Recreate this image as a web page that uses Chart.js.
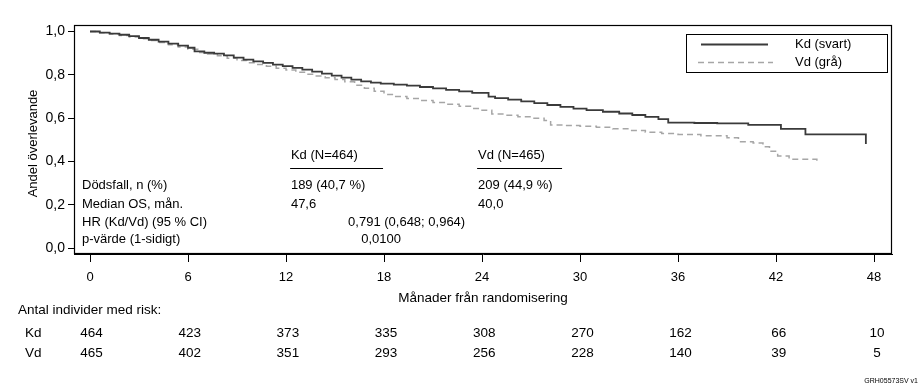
<!DOCTYPE html>
<html>
<head>
<meta charset="utf-8">
<script src="https://cdn.jsdelivr.net/npm/chart.js@4.4.1/dist/chart.umd.min.js"></script>
<style>
html,body{margin:0;padding:0;background:#fff;}
canvas{display:block;}
</style>
</head>
<body>
<canvas id="c" width="922" height="391"></canvas>
<script>
// ---- data ----
const kdTime = [0,0.6,1.2,1.8,2.4,3.0,3.6,4.2,4.8,5.4,6.0,6.4,7.0,7.6,8.2,8.8,9.4,10.0,10.6,11.2,11.8,12.4,13.0,13.6,14.2,14.8,15.4,16.0,16.6,17.2,17.8,18.6,19.4,20.2,21.0,21.8,22.6,23.4,24.4,24.8,25.6,26.4,27.2,28.0,28.8,29.6,30.4,31.4,32.4,33.2,34.0,34.8,35.4,37.0,38.4,40.3,42.3,43.8,47.5];
const kdSurv = [1.000,0.995,0.990,0.985,0.979,0.970,0.962,0.953,0.944,0.935,0.925,0.908,0.902,0.898,0.890,0.880,0.870,0.862,0.855,0.847,0.840,0.832,0.824,0.815,0.806,0.797,0.787,0.778,0.770,0.764,0.760,0.755,0.750,0.744,0.738,0.731,0.724,0.717,0.700,0.693,0.686,0.678,0.670,0.661,0.652,0.644,0.637,0.630,0.622,0.615,0.606,0.596,0.580,0.578,0.576,0.569,0.551,0.526,0.481];
const vdTime = [0,0.6,1.2,1.8,2.4,3.0,3.6,4.2,4.8,5.4,6.0,6.6,7.2,7.8,8.4,9.0,9.6,10.2,10.8,11.4,12.0,12.6,13.2,13.8,14.4,15.0,15.6,16.2,16.8,17.4,18.0,18.6,19.4,20.2,21.0,21.8,22.6,23.4,24.0,24.6,25.4,26.2,27.0,27.8,28.2,29.0,30.0,31.0,32.0,33.0,34.0,35.0,36.0,37.4,39.0,39.7,40.6,41.2,41.6,42.1,42.8,44.5];
const vdSurv = [1.000,0.994,0.988,0.982,0.975,0.967,0.958,0.949,0.939,0.929,0.918,0.903,0.896,0.888,0.877,0.866,0.856,0.848,0.840,0.831,0.822,0.812,0.803,0.795,0.787,0.779,0.768,0.752,0.738,0.724,0.710,0.700,0.691,0.682,0.673,0.664,0.655,0.645,0.637,0.620,0.614,0.607,0.600,0.590,0.569,0.566,0.563,0.559,0.551,0.543,0.536,0.530,0.525,0.519,0.510,0.492,0.486,0.468,0.448,0.426,0.411,0.393];

const seriesNames = ['Kd (svart)','Vd (grå)'];
const xTicks = [0,6,12,18,24,30,36,42,48];
const yTicks = [0,0.2,0.4,0.6,0.8,1.0];
const yTickLabels = ['0,0','0,2','0,4','0,6','0,8','1,0'];
const riskTimes = [0,6,12,18,24,30,36,42,48];
const riskKd = [464,423,373,335,308,270,162,66,10];
const riskVd = [465,402,351,293,256,228,140,39,5];
const riskRowLabels = ['Kd','Vd'];
const statRowLabels = ['Dödsfall, n (%)','Median OS, mån.','HR (Kd/Vd) (95 % CI)','p-värde (1-sidigt)'];
const statKd = ['Kd (N=464)','189 (40,7 %)','47,6'];
const statVd = ['Vd (N=465)','209 (44,9 %)','40,0'];
const statHR = '0,791 (0,648; 0,964)';
const statP = '0,0100';

const FONT = '"Liberation Sans", Arial, Helvetica, sans-serif';
const KD_COLOR = '#3a3a3a';
const VD_COLOR = '#a6a6a6';
const VD_DASH = [6,4];

const toPts = (t, s) => t.map((v, i) => ({x: v, y: s[i]}));

const overlay = {
  id: 'overlay',
  afterDraw(chart) {
    const ctx = chart.ctx;
    const a = chart.chartArea;
    const xs = chart.scales.x, ys = chart.scales.y;
    const X = v => xs.getPixelForValue(v), Y = v => ys.getPixelForValue(v);
    ctx.save();
    // frame
    ctx.strokeStyle = '#000'; ctx.lineWidth = 1.2;
    ctx.strokeRect(a.left + 0.5, a.top + 0.5, a.right - a.left - 1, a.bottom - a.top - 1);

    // legend
    const lx = a.right - 206, ly = a.top + 9, lw = 201, lh = 38;
    ctx.lineWidth = 1; ctx.strokeStyle = '#000';
    ctx.strokeRect(lx + 0.5, ly + 0.5, lw, lh);
    ctx.font = '13px ' + FONT; ctx.fillStyle = '#000';
    ctx.textBaseline = 'middle'; ctx.textAlign = 'left';
    ctx.strokeStyle = KD_COLOR; ctx.lineWidth = 1.8; ctx.setLineDash([]);
    ctx.beginPath(); ctx.moveTo(lx + 15, ly + 10.5); ctx.lineTo(lx + 82, ly + 10.5); ctx.stroke();
    ctx.fillText(seriesNames[0], lx + 109, ly + 10);
    ctx.strokeStyle = VD_COLOR; ctx.lineWidth = 1.5; ctx.setLineDash(VD_DASH);
    ctx.beginPath(); ctx.moveTo(lx + 12, ly + 28.5); ctx.lineTo(lx + 87, ly + 28.5); ctx.stroke();
    ctx.setLineDash([]);
    ctx.fillText(seriesNames[1], lx + 109, ly + 28);

    // statistics table inside the plot
    ctx.font = '13px ' + FONT; ctx.fillStyle = '#000';
    const rowsY = [0.290, 0.204, 0.120, 0.0415].map(Y);
    const colL = X(-0.49), colK = X(12.3), colV = X(23.76);
    ctx.fillText(statKd[0], colK, Y(0.427));
    ctx.fillText(statVd[0], colV, Y(0.427));
    ctx.strokeStyle = '#000'; ctx.lineWidth = 1;
    const uy = Math.round(Y(0.369)) + 0.5;
    ctx.beginPath(); ctx.moveTo(X(12.25), uy); ctx.lineTo(X(17.94), uy); ctx.stroke();
    ctx.beginPath(); ctx.moveTo(X(23.7), uy); ctx.lineTo(X(28.9), uy); ctx.stroke();
    statRowLabels.forEach((t, i) => ctx.fillText(t, colL, rowsY[i]));
    ctx.fillText(statKd[1], colK, rowsY[0]);
    ctx.fillText(statKd[2], colK, rowsY[1]);
    ctx.fillText(statVd[1], colV, rowsY[0]);
    ctx.fillText(statVd[2], colV, rowsY[1]);
    ctx.fillText(statHR, X(15.8), rowsY[2]);
    ctx.fillText(statP, X(16.6), rowsY[3]);

    // axis titles
    ctx.textAlign = 'center';
    ctx.font = '13.5px ' + FONT;
    ctx.fillText('Månader från randomisering', (a.left + a.right) / 2, 298);
    ctx.save();
    ctx.translate(33, (a.top + a.bottom) / 2 + 4);
    ctx.rotate(-Math.PI / 2);
    ctx.font = '13px ' + FONT;
    ctx.fillText('Andel överlevande', 0, 0);
    ctx.restore();

    // number at risk
    ctx.textAlign = 'left';
    ctx.font = '13.5px ' + FONT;
    ctx.fillText('Antal individer med risk:', 18, 310);
    ctx.fillText(riskRowLabels[0], 25, 333);
    ctx.fillText(riskRowLabels[1], 25, 353);
    ctx.textAlign = 'center';
    riskTimes.forEach((t, i) => {
      const px = X(t) + 1.5 + t * 0.03;
      ctx.fillText(String(riskKd[i]), px, 333);
      ctx.fillText(String(riskVd[i]), px, 353);
    });

    // footnote
    ctx.textAlign = 'right';
    ctx.font = '7px ' + FONT;
    ctx.fillText('GRH05573SV v1', 918, 381);
    ctx.restore();
  }
};

new Chart(document.getElementById('c'), {
  type: 'line',
  data: {
    datasets: [
      { label: seriesNames[0], data: toPts(kdTime, kdSurv), borderColor: KD_COLOR, borderWidth: 1.8,
        stepped: 'before', pointRadius: 0, fill: false },
      { label: seriesNames[1], data: toPts(vdTime, vdSurv), borderColor: VD_COLOR, borderWidth: 1.5,
        borderDash: VD_DASH, stepped: 'before', pointRadius: 0, fill: false }
    ]
  },
  options: {
    responsive: false,
    devicePixelRatio: 1,
    animation: false,
    events: [],
    layout: { padding: { top: 25, right: 30, left: 0, bottom: 0 } },
    plugins: { legend: { display: false }, tooltip: { enabled: false }, title: { display: false } },
    scales: {
      x: {
        type: 'linear', min: -0.98, max: 49.1,
        afterBuildTicks: s => { s.ticks = xTicks.map(v => ({ value: v })); },
        afterFit: s => { s.height = 137; },
        ticks: { color: '#000', font: { family: FONT, size: 13 }, padding: 8, maxRotation: 0, autoSkip: false,
                 callback: v => String(v) },
        grid: { drawOnChartArea: false, drawTicks: true, tickLength: 8, tickColor: '#000', tickWidth: 1 },
        border: { display: true, color: '#000', width: 1 }
      },
      y: {
        type: 'linear', min: -0.026, max: 1.03,
        afterBuildTicks: s => { s.ticks = yTicks.map(v => ({ value: v })); },
        afterFit: s => { s.width = 74; },
        ticks: { color: '#000', font: { family: FONT, size: 14 }, padding: 3, autoSkip: false,
                 callback: v => { const i = yTicks.findIndex(t => Math.abs(t - v) < 1e-9); return i >= 0 ? yTickLabels[i] : ''; } },
        grid: { drawOnChartArea: false, drawTicks: true, tickLength: 6, tickColor: '#000', tickWidth: 1 },
        border: { display: true, color: '#000', width: 1 }
      }
    }
  },
  plugins: [overlay]
});
</script>
</body>
</html>
